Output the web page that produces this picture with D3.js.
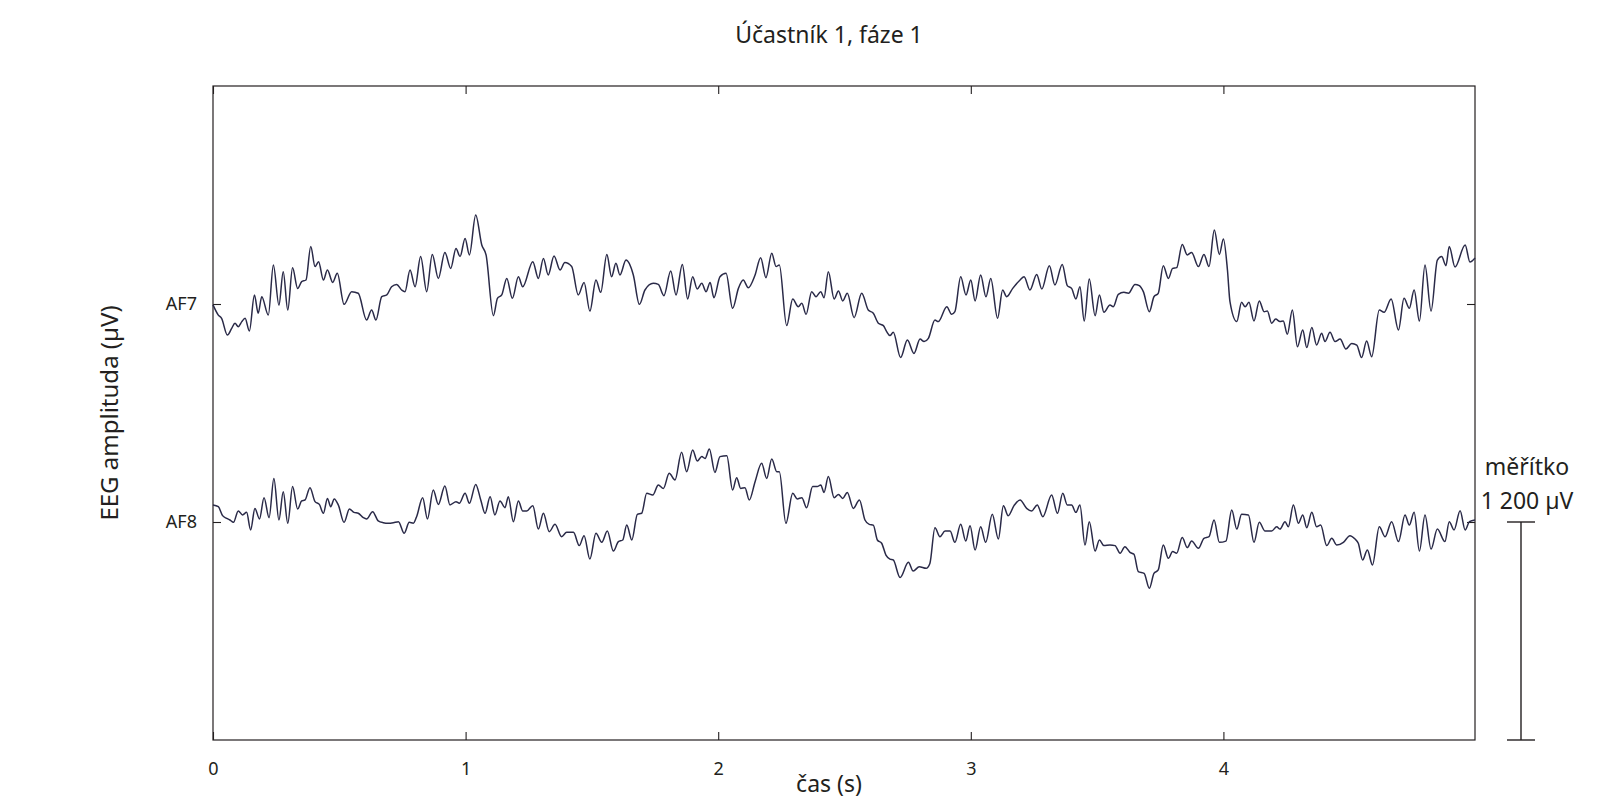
<!DOCTYPE html>
<html>
<head>
<meta charset="utf-8">
<script src="https://cdn.jsdelivr.net/npm/d3@7/dist/d3.min.js"></script>
<style>
  body { margin: 0; background: #fff; }
  text { font-family: "Noto Sans", sans-serif; fill: #231f20; }
</style>
</head>
<body>
<div id="plot"></div>
<script>
// ----- DATA -------------------------------------------------//
const channels = ["AF7", "AF8"];
const channelOffsets = [2400, 1200];   // µV, where each trace sits
const xTicks = [0, 1, 2, 3, 4];
const tMax = 4.996;
const yMax = 3600;
const scaleBarValue = 1200;

// AF7: time (s) of turning points and amplitude (µV) around its offset
const af7Time = [
  0.000, 0.021, 0.034, 0.057, 0.074, 0.087, 0.100, 0.114, 0.127, 0.144, 0.164, 0.179, 0.193, 0.219, 0.239, 0.261,
  0.278, 0.296, 0.315, 0.335, 0.351, 0.368, 0.387, 0.404, 0.418, 0.437, 0.453, 0.474, 0.492, 0.519, 0.549, 0.575,
  0.608, 0.628, 0.645, 0.668, 0.688, 0.707, 0.727, 0.747, 0.760, 0.780, 0.800, 0.822, 0.846, 0.868, 0.892, 0.918,
  0.941, 0.962, 0.978, 0.998, 1.015, 1.040, 1.064, 1.081, 1.110, 1.126, 1.143, 1.163, 1.185, 1.209,
  1.226, 1.266, 1.288, 1.308, 1.327, 1.350, 1.374, 1.393, 1.420, 1.446, 1.469, 1.492, 1.516, 1.535, 1.559, 1.578,
  1.595, 1.611, 1.635, 1.664, 1.688, 1.710, 1.743, 1.763, 1.785, 1.812, 1.833, 1.858, 1.879, 1.899, 1.917, 1.935,
  1.952, 1.968, 1.983, 2.007, 2.031, 2.057, 2.080, 2.099, 2.119, 2.146, 2.168, 2.189, 2.212, 2.229, 2.242, 2.271,
  2.295, 2.317, 2.331, 2.348, 2.370, 2.387, 2.406, 2.419, 2.436,
  2.459, 2.476, 2.493, 2.511, 2.538, 2.568, 2.594, 2.614, 2.634, 2.654, 2.667, 2.680, 2.693, 2.722, 2.749, 2.775,
  2.799, 2.815, 2.832, 2.858, 2.871, 2.905, 2.924, 2.937, 2.960, 2.981, 3.000, 3.017, 3.039, 3.060, 3.079, 3.106,
  3.126, 3.142, 3.166, 3.195, 3.211, 3.234, 3.261, 3.281, 3.311, 3.333, 3.362, 3.382, 3.399, 3.416, 3.432, 3.449,
  3.469, 3.492, 3.509, 3.527, 3.551, 3.564, 3.584, 3.606, 3.624, 3.650, 3.667,
  3.683, 3.707, 3.725, 3.742, 3.762, 3.782, 3.799, 3.815, 3.837, 3.857, 3.874, 3.901, 3.923, 3.943, 3.964, 3.984,
  4.000, 4.016, 4.026, 4.053, 4.072, 4.086, 4.101, 4.121, 4.142, 4.161, 4.174, 4.191, 4.207, 4.224, 4.237, 4.253,
  4.273, 4.293, 4.314, 4.330, 4.350, 4.369, 4.389, 4.402, 4.422, 4.442, 4.462, 4.485, 4.508, 4.528, 4.547, 4.567,
  4.587, 4.617, 4.636, 4.664, 4.693, 4.715, 4.736, 4.755, 4.776, 4.798, 4.822, 4.847, 4.864, 4.881, 4.894, 4.917,
  4.957, 4.976, 4.996
];
const af7Values = [
  -5, -61, -79, -171, -134, -106, -125, -97, -79, -149, 50, -51, 40, -61, 215, -6,
  178, -33, 200, 86, 123, 132, 316, 206, 233, 132, 187, 119, 169, -2, 68, 59,
  -88, -33, -88, 40, 50, 95, 108, 77, 68, 187, 95, 261, 68, 273, 141, 284,
  196, 306, 261, 361, 270, 490, 325, 270, -64, 31, 50, 141, 31, 150,
  95, 233, 141, 251, 160, 264, 187, 228, 206, 50, 119, -39, 132, 64, 273, 150,
  224, 160, 242, 160, -2, 77, 114, 108, 46, 182, 50, 218, 28, 150, 83, 114,
  68, 119, 35, 150, 169, -24, 86, 132, 90, 160, 255, 145, 279, 206, 215, -119,
  28, -15, 4, -57, 68, 40, 68, 35, 178,
  28, 72, 17, 59, -75, 59, -33, -51, -106, -119, -152, -174, -156, -295, -198, -272,
  -193, -207, -189, -88, -97, -15, -57, -42, 150, 50, 132, 17, 160, 40, 141, -79,
  77, 40, 86, 132, 150, 77, 163, 83, 211, 105, 218, 101, 86, 28, 95, -94,
  138, -64, 50, -46, -6, -15, 53, 64, 59, 108, 101,
  68, -42, 40, 59, 211, 141, 196, 200, 328, 270, 284, 206, 273, 206, 407, 273,
  358, 187, 13, -97, 9, -15, 9, -94, 17, -42, -39, -106, -83, -97, -94, -167,
  -33, -235, -143, -240, -130, -226, -161, -207, -156, -207, -193, -248, -217, -226, -295, -204,
  -290, -33, -46, 28, -143, 31, -24, 77, -94, 215, -39, 242, 261, 211, 316, 204,
  325, 231, 253
];

// AF8
const af8Time = [
  0.000, 0.021, 0.038, 0.054, 0.067, 0.081, 0.100, 0.117, 0.133, 0.149, 0.166, 0.184, 0.202, 0.222, 0.241, 0.261,
  0.278, 0.296, 0.315, 0.335, 0.351, 0.364, 0.384, 0.404, 0.421, 0.437, 0.453, 0.466, 0.480, 0.496, 0.519, 0.540,
  0.558, 0.575, 0.595, 0.608, 0.632, 0.654, 0.674, 0.694, 0.714, 0.734, 0.757, 0.777, 0.793, 0.806, 0.830, 0.849,
  0.872, 0.892, 0.918, 0.938, 0.962, 0.975, 0.998, 1.015, 1.040, 1.060, 1.077, 1.097, 1.116, 1.136, 1.156, 1.169,
  1.189, 1.209,
  1.226, 1.242, 1.266, 1.288, 1.308, 1.331, 1.354, 1.380, 1.400, 1.427, 1.450, 1.469, 1.492, 1.516, 1.539, 1.561,
  1.585, 1.605, 1.622, 1.638, 1.658, 1.680, 1.697, 1.717, 1.741, 1.763, 1.783, 1.806, 1.829, 1.855, 1.875, 1.899,
  1.917, 1.935, 1.948, 1.965, 1.987, 2.007, 2.034, 2.057, 2.073, 2.089, 2.106, 2.123, 2.146, 2.172, 2.192, 2.212,
  2.232, 2.242, 2.268, 2.295, 2.313, 2.331, 2.350, 2.374, 2.392, 2.406, 2.419, 2.436,
  2.459, 2.476, 2.493, 2.511, 2.535, 2.559, 2.581, 2.598, 2.614, 2.630, 2.647, 2.664, 2.680, 2.693, 2.720, 2.753,
  2.772, 2.796, 2.823, 2.838, 2.858, 2.878, 2.898, 2.918, 2.937, 2.960, 2.980, 2.997, 3.017, 3.039, 3.059, 3.085,
  3.109, 3.129, 3.148, 3.171, 3.195, 3.221, 3.241, 3.263, 3.285, 3.320, 3.343, 3.364, 3.382, 3.399, 3.416, 3.432,
  3.452, 3.469, 3.492, 3.509, 3.527, 3.551, 3.571, 3.591, 3.610, 3.630, 3.646, 3.663,
  3.686, 3.707, 3.725, 3.742, 3.762, 3.782, 3.799, 3.815, 3.837, 3.857, 3.874, 3.901, 3.923, 3.943, 3.963, 3.984,
  4.010, 4.033, 4.053, 4.072, 4.099, 4.121, 4.142, 4.165, 4.191, 4.211, 4.224, 4.244, 4.257, 4.277, 4.297, 4.314,
  4.330, 4.350, 4.369, 4.385, 4.409, 4.429, 4.449, 4.475, 4.501, 4.521, 4.534, 4.551, 4.570, 4.590, 4.617, 4.640,
  4.666, 4.693, 4.719, 4.736, 4.755, 4.776, 4.798, 4.822, 4.847, 4.877, 4.894, 4.913, 4.937, 4.957, 4.974, 4.996
];
const af8Values = [
  94, 84, 35, 20, 11, -2, 61, 39, 53, -44, 75, 17, 134, 24, 240, 11,
  167, -7, 195, 72, 116, 121, 189, 112, 97, 48, 130, 84, 127, 94, -2, 72,
  53, 48, 24, 17, 57, 6, -4, -7, -4, 2, -62, -2, -7, 29, 134, 17,
  176, 97, 198, 94, 112, 103, 158, 103, 207, 121, 48, 139, 39, 116, 79, 139,
  2, 116,
  61, 61, 90, -39, 48, -53, -13, -81, -57, -57, -130, -75, -204, -62, -112, -50,
  -160, -108, -99, -17, -99, 42, 48, 158, 149, 204, 185, 268, 231, 384, 277, 396,
  336, 360, 350, 402, 273, 360, 365, 176, 244, 185, 189, 121, 222, 323, 240, 347,
  277, 277, -7, 158, 127, 134, 79, 195, 195, 204, 163, 250,
  134, 152, 130, 163, 75, 121, 11, -13, -17, -99, -117, -182, -204, -209, -306, -222,
  -270, -246, -255, -228, -31, -81, -50, -50, -112, -13, -105, -20, -154, -26, -112, 42,
  -94, 90, 35, 90, 121, 75, 61, 94, 29, 149, 48, 158, 94, 94, 53, 94,
  -127, 2, -160, -99, -130, -127, -130, -172, -136, -167, -178, -273,
  -283, -365, -283, -264, -127, -200, -163, -172, -86, -141, -105, -145, -90, -81, 11, -112,
  -105, 66, -39, 42, 39, -112, -2, -50, -50, -26, -39, 2, -26, 94, -7, 39,
  -31, 53, -26, -17, -130, -90, -127, -112, -75, -94, -117, -209, -154, -237, -26, -81,
  2, -108, 39, -17, 53, -160, 39, -149, -39, -108, 2, -44, 62, -44, 2, 11
];

// ----- LAYOUT ------------------------//
const width = 1610;
const height = 800;
const plotLeft = 213, plotRight = 1475, plotTop = 86, plotBottom = 740;
const tickLen = 8;
const ink = "#231f20";

const svg = d3.select("#plot").append("svg")
    .attr("width", width)
    .attr("height", height)
    .style("display", "block");

svg.append("rect").attr("width", width).attr("height", height).attr("fill", "#fff");

// scales
const xScl = d3.scaleLinear().domain([0, tMax]).range([plotLeft, plotRight]);
const yScl = d3.scaleLinear().domain([0, yMax]).range([plotBottom, plotTop]);

// remap into one list per channel
const series = [
    { id: channels[0], offset: channelOffsets[0], values: af7Time.map((t, i) => ({ t: t, v: af7Values[i] })) },
    { id: channels[1], offset: channelOffsets[1], values: af8Time.map((t, i) => ({ t: t, v: af8Values[i] })) }
];

// ----- AXES ------------------------//
function styleAxis(g) {
    g.select(".domain").remove();
    g.selectAll(".tick line").attr("stroke", ink).attr("stroke-width", 1.1);
    g.selectAll(".tick text").attr("fill", ink).style("font-size", "18px")
        .style("font-family", "'Noto Sans', sans-serif");
}

svg.append("g")
    .attr("transform", "translate(0," + plotBottom + ")")
    .call(d3.axisBottom(xScl).tickValues(xTicks).tickSizeInner(-tickLen).tickSizeOuter(0)
        .tickPadding(22).tickFormat(d3.format("d")))
    .call(styleAxis);

svg.append("g")
    .attr("transform", "translate(0," + plotTop + ")")
    .call(d3.axisTop(xScl).tickValues(xTicks).tickSizeInner(-tickLen).tickSizeOuter(0).tickFormat(""))
    .call(styleAxis);

const offsetName = d3.scaleOrdinal().domain(channelOffsets).range(channels);

svg.append("g")
    .attr("transform", "translate(" + plotLeft + ",0)")
    .call(d3.axisLeft(yScl).tickValues(channelOffsets).tickSizeInner(-tickLen).tickSizeOuter(0)
        .tickPadding(16).tickFormat(d => offsetName(d)))
    .call(styleAxis);

svg.append("g")
    .attr("transform", "translate(" + plotRight + ",0)")
    .call(d3.axisRight(yScl).tickValues(channelOffsets).tickSizeInner(-tickLen).tickSizeOuter(0).tickFormat(""))
    .call(styleAxis);

// box around the plot
svg.append("rect")
    .attr("x", xScl(0))
    .attr("y", yScl(yMax))
    .attr("width", xScl(tMax) - xScl(0))
    .attr("height", yScl(0) - yScl(yMax))
    .attr("fill", "none")
    .attr("stroke", ink)
    .attr("stroke-width", 1.2);

// ----- TRACES ------------------------//
const line = d3.line()
    .x(d => xScl(d.t))
    .y(d => yScl(d.v))
    .curve(d3.curveMonotoneX);

svg.selectAll(".trace")
    .data(series)
    .enter()
    .append("path")
    .attr("class", "trace")
    .attr("fill", "none")
    .attr("stroke", "#2a2a48")
    .attr("stroke-width", 1.5)
    .attr("stroke-linejoin", "round")
    .attr("d", s => line(s.values.map(p => ({ t: p.t, v: s.offset + p.v }))));

// ----- SCALE BAR ------------------------//
const barX = 1521;
const capHalf = 14;
const bar = svg.append("g").attr("stroke", ink).attr("stroke-width", 1.4);
bar.append("line").attr("x1", barX).attr("x2", barX).attr("y1", yScl(0)).attr("y2", yScl(scaleBarValue));
bar.append("line").attr("x1", barX - capHalf).attr("x2", barX + capHalf).attr("y1", yScl(scaleBarValue)).attr("y2", yScl(scaleBarValue));
bar.append("line").attr("x1", barX - capHalf).attr("x2", barX + capHalf).attr("y1", yScl(0)).attr("y2", yScl(0));

svg.append("text")
    .attr("x", 1527).attr("y", 475)
    .attr("text-anchor", "middle")
    .style("font-size", "23px")
    .text("měřítko");

svg.append("text")
    .attr("x", 1527).attr("y", 509)
    .attr("text-anchor", "middle")
    .style("font-size", "23px")
    .text(d3.format(",")(scaleBarValue).replace(",", " ") + " µV");

// ----- LABELS ------------------------//
svg.append("text")
    .attr("x", 829).attr("y", 43)
    .attr("text-anchor", "middle")
    .style("font-size", "23px")
    .text("Účastník 1, fáze 1");

svg.append("text")
    .attr("transform", "translate(118," + ((plotTop + plotBottom) / 2) + ") rotate(-90)")
    .attr("text-anchor", "middle")
    .style("font-size", "24px")
    .text("EEG amplituda (µV)");

// sits right at the bottom edge like the original, but kept fully visible
svg.append("text")
    .attr("x", 829).attr("y", 792)
    .attr("text-anchor", "middle")
    .style("font-size", "23px")
    .text("čas (s)");
</script>
</body>
</html>
